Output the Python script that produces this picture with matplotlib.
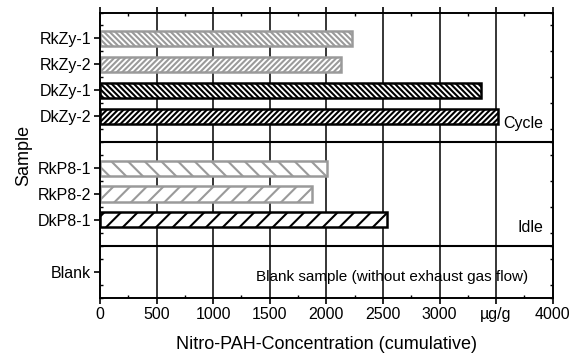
import numpy as np
import matplotlib.pyplot as plt
from matplotlib.ticker import MultipleLocator

plt.rcParams['font.family'] = ['Liberation Sans', 'DejaVu Sans']
plt.rcParams['hatch.linewidth'] = 1.5

#========== data ==========#
samples = ['RkZy-1', 'RkZy-2', 'DkZy-1', 'DkZy-2', 'RkP8-1', 'RkP8-2', 'DkP8-1', 'Blank']
ypos = [1, 2, 3, 4, 6, 7, 8, 10]
values = [2230, 2130, 3365, 3520, 2010, 1877, 2535]
colors = ['#9a9a9a', '#9a9a9a', 'black', 'black', '#9a9a9a', '#9a9a9a', 'black']
hatches = ['\\\\\\\\\\\\', '//////', '\\\\\\\\\\\\', '//////', '\\\\', '//', '//']
xticks = [0, 500, 1000, 1500, 2000, 2500, 3000, 3500, 4000]
xticklabels = ['0', '500', '1000', '1500', '2000', '2500', '3000', 'µg/g', '4000']

fig = plt.figure(figsize=(5.72, 3.53), dpi=100)
ax = fig.add_axes([100/572, 1-297.7/353, 452.7/572, 285.2/353])

#========== grid / separators ==========#
for x in xticks[1:-1]:
    ax.axvline(x, color='black', lw=1.1, zorder=0)
for y in [5, 9]:
    ax.axhline(y, color='black', lw=1.5, zorder=0)

#========== bars ==========#
for y, v, c, h in zip(ypos, values, colors, hatches):
    ax.barh(y, v, height=0.58, color='white', edgecolor=c, hatch=h, lw=1.8, zorder=2)

#========== texts ==========#
fs = 11.5
ax.text(3920, 4.3, 'Cycle', ha='right', va='center', fontsize=fs)
ax.text(3920, 8.3, 'Idle', ha='right', va='center', fontsize=fs)
ax.text(2580, 10.2, 'Blank sample (without exhaust gas flow)', ha='center', va='center', fontsize=11)

#========== axes ==========#
ax.set_xlim(0, 4000)
ax.set_ylim(11, 0)
ax.set_xticks(xticks)
ax.set_xticklabels(xticklabels)
ax.xaxis.set_minor_locator(MultipleLocator(250))
ax.set_yticks(ypos)
ax.set_yticklabels(samples)
ax.yaxis.set_minor_locator(MultipleLocator(0.5))
ax.tick_params(axis='both', which='major', direction='out', length=4, width=1.2, labelsize=fs, top=True, right=False, pad=2.5)
ax.tick_params(axis='both', which='minor', direction='in', length=2.5, width=1, top=True, right=True)
ax.tick_params(axis='y', which='minor', left=True)
for s in ax.spines.values():
    s.set_linewidth(1.4)

ax.set_xlabel('Nitro-PAH-Concentration (cumulative)', fontsize=13, labelpad=10)
ax.set_ylabel('Sample', fontsize=13, labelpad=4)

plt.savefig('out.png', dpi=100)
